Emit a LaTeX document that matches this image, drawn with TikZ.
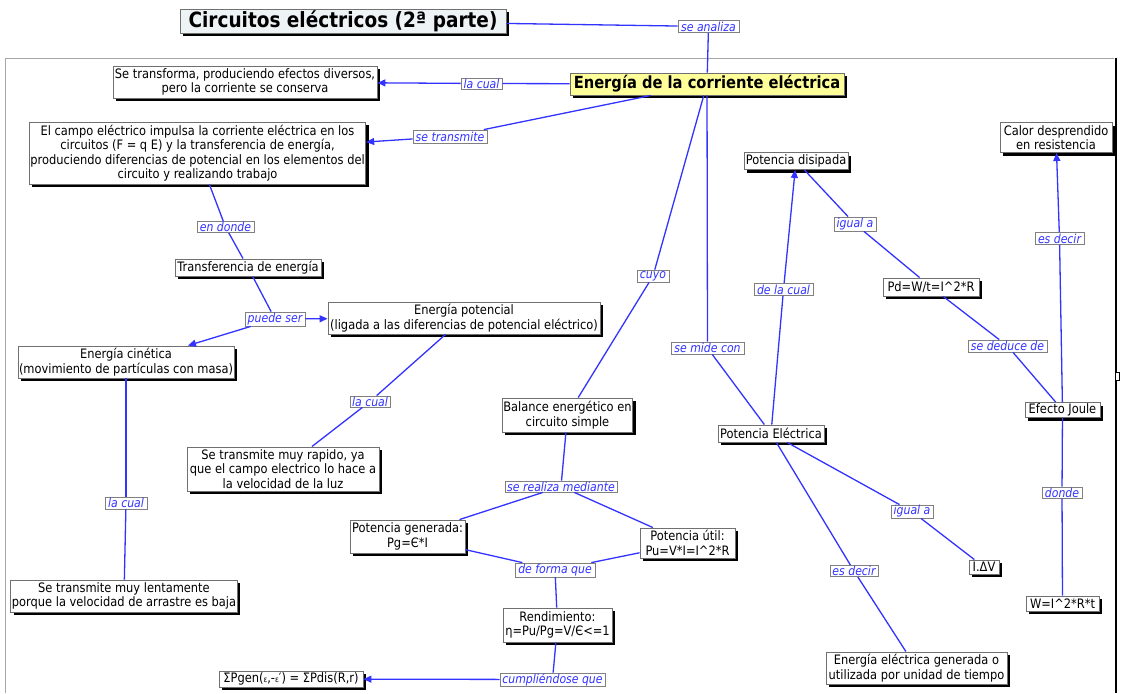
\documentclass[tikz,border=0pt]{standalone}
\usepackage{fontspec}
\setmainfont{DejaVu Sans}[FakeStretch=0.88]
\usetikzlibrary{arrows.meta,shadows,calc}
\definecolor{lineblue}{HTML}{3333FF}
\definecolor{linkblue}{HTML}{3333FF}
\definecolor{titlefill}{HTML}{EEF3F6}
\definecolor{mainfill}{HTML}{FFFF99}
\definecolor{bordergray}{HTML}{707070}
\tikzset{
  sz/.style 2 args={minimum width=#1pt, minimum height=#2pt},
  concept/.style={draw=bordergray, line width=0.9pt, fill=white, align=center, inner sep=1pt, text=black,
    font=\fontsize{13}{14.5}\selectfont,
    drop shadow={shadow xshift=3pt, shadow yshift=-3pt, opacity=1, fill=black}},
  link/.style={draw=gray, line width=0.8pt, fill=white, inner sep=0pt, text=linkblue,
    font=\fontsize{12.4}{12.4}\selectfont\itshape},
  conn/.style={draw=lineblue, line width=1.3pt},
  arr/.style={conn, -{Triangle[length=8pt,width=7pt]}},
}
\begin{document}
\begin{tikzpicture}[x=1pt,y=-1pt]
\useasboundingbox (0,0) rectangle (1121,693);
% frame
\draw[gray!70, line width=1pt] (5,693) -- (5,59) -- (1114,59);
\draw[black, line width=2.5pt] (1116,58) -- (1116,693);
\draw[black, fill=white, line width=0.5pt] (1115,372) rectangle (1119,380);

% nodes
\node[concept, sz={326}{24}, fill=titlefill, font=\fontsize{21}{24}\selectfont\bfseries] (title) at (343,21) {Circuitos eléctricos (2ª parte)};
\node[link, sz={61}{12}] (sean) at (708.5,26.5) {se analiza};
\node[concept, sz={274}{22}, fill=mainfill, font=\fontsize{16.7}{18}\selectfont\bfseries] (main) at (707,84) {Energía de la corriente eléctrica};
\node[link, sz={41}{11}] (lc1) at (481.5,83.5) {la cual};
\node[concept, sz={264}{32}] (trans) at (245,82) {Se transforma, produciendo efectos diversos,\\pero la corriente se conserva};
\node[link, sz={74}{13}] (stm) at (450,136.5) {se transmite};
\node[concept, sz={331}{62}] (campo) at (197.5,153) {El campo eléctrico impulsa la corriente eléctrica en los\\circuitos (F = q E) y la transferencia de energía,\\produciendo diferencias de potencial en los elementos del\\circuito y realizando trabajo};
\node[link, sz={57}{11}] (endonde) at (225.5,227) {en donde};
\node[concept, sz={146}{17}] (transf) at (248,267.5) {Transferencia de energía};
\node[link, sz={60}{14}] (puede) at (275,319) {puede ser};
\node[concept, sz={272}{32}] (epot) at (464,318) {Energía potencial\\(ligada a las diferencias de potencial eléctrico)};
\node[concept, sz={216}{32}] (ecin) at (126,362) {Energía cinética\\(movimiento de partículas con masa)};
\node[link, sz={40}{11}] (lc2) at (370,401.5) {la cual};
\node[concept, sz={192}{44}] (rapido) at (283,469) {Se transmite muy rapido, ya\\que el campo electrico lo hace a\\la velocidad de la luz};
\node[link, sz={42}{12}] (lc3) at (126,503) {la cual};
\node[concept, sz={226}{32}] (lento) at (124,596) {Se transmite muy lentamente\\porque la velocidad de arrastre es baja};
\node[link, sz={32}{12}] (cuyo) at (653,276) {cuyo};
\node[concept, sz={129}{34}] (balance) at (567.5,415) {Balance energético en\\circuito simple};
\node[link, sz={112}{11}] (realiza) at (561,486.5) {se realiza mediante};
\node[concept, sz={115}{33}] (pgen) at (407.5,536.5) {Potencia generada:\\Pg=Є*I};
\node[concept, sz={95}{30}] (putil) at (687.5,543) {Potencia útil:\\Pu=V*I=I\^{}2*R};
\node[link, sz={80}{14}] (deforma) at (555,570) {de forma que};
\node[concept, sz={109}{34}] (rend) at (557.5,625) {Rendimiento:\\η=Pu/Pg=V/Є<=1};
\node[link, sz={105}{13}] (cumpl) at (552.5,679.5) {cumpliéndose que};
\node[concept, sz={144}{16}] (sigma) at (291,679) {ΣPgen({\fontsize{8}{8}\selectfont ε},-{\fontsize{8}{8}\selectfont ε}′) = ΣPdis(R,r)};
\node[link, sz={73}{12}] (midecon) at (707.5,348) {se mide con};
\node[concept, sz={106}{17}] (pelec) at (771,433.5) {Potencia Eléctrica};
\node[link, sz={59}{12}] (delacual) at (783.5,289.5) {de la cual};
\node[concept, sz={104}{17}] (pdis) at (796,161) {Potencia disipada};
\node[link, sz={42}{14}] (igual1) at (855,224) {igual a};
\node[concept, sz={96}{18}] (pd) at (931,287) {Pd=W/t=I\^{}2*R};
\node[link, sz={79}{12}] (deduce) at (1007.5,346) {se deduce de};
\node[concept, sz={75}{15}] (joule) at (1062.5,410) {Efecto Joule};
\node[link, sz={49}{12}] (esdecir1) at (1059.5,238.5) {es decir};
\node[concept, sz={112}{30}] (calor) at (1056,137.5) {Calor desprendido\\en resistencia};
\node[link, sz={40}{11}] (donde) at (1062,492.5) {donde};
\node[concept, sz={73}{15}] (wnode) at (1062.5,603.5) {W=I\^{}2*R*t};
\node[link, sz={42}{13}] (igual2) at (912,511.5) {igual a};
\node[concept, sz={30}{14}] (idv) at (984,567) {I.ΔV};
\node[link, sz={48}{11}] (esdecir2) at (854,571) {es decir};
\node[concept, sz={181}{32}] (eelec) at (916.5,668) {Energía eléctrica generada o\\utilizada por unidad de tiempo};

% connectors
\draw[conn] (title) -- (sean);
\draw[conn] (sean) -- (main);
\draw[conn] (main) -- (lc1);
\draw[arr] (lc1) -- (trans);
\draw[conn] (main) -- (stm);
\draw[arr] (stm) -- (campo);
\draw[conn] (campo) -- (endonde);
\draw[conn] (endonde) -- (transf);
\draw[conn] (transf) -- (puede);
\draw[arr] (puede) -- (epot);
\draw[arr] (puede) -- ($(ecin.north)+(62,0)$);
\draw[conn] (epot) -- (lc2);
\draw[conn] (lc2) -- (rapido);
\draw[conn] (ecin) -- (lc3);
\draw[conn] (lc3) -- (lento);
\draw[conn] (main) -- (cuyo);
\draw[conn] (cuyo) -- (balance);
\draw[conn] (balance) -- (realiza);
\draw[conn] (realiza) -- (pgen);
\draw[conn] (realiza) -- (putil);
\draw[conn] (pgen) -- (deforma);
\draw[conn] (putil) -- (deforma);
\draw[conn] (deforma) -- (rend);
\draw[conn] (rend) -- (cumpl);
\draw[arr] (cumpl) -- (sigma);
\draw[conn] (main) -- (midecon);
\draw[conn] (midecon) -- (pelec);
\draw[conn] (pelec) -- (delacual);
\draw[arr] (delacual) -- (pdis);
\draw[conn] (pdis) -- (igual1);
\draw[conn] (igual1) -- (pd);
\draw[conn] (pd) -- (deduce);
\draw[conn] (deduce) -- (joule);
\draw[conn] (joule) -- (esdecir1);
\draw[arr] (esdecir1) -- (calor);
\draw[conn] (joule) -- (donde);
\draw[conn] (donde) -- (wnode);
\draw[conn] (pelec) -- (igual2);
\draw[conn] (igual2) -- (idv);
\draw[conn] (pelec) -- (esdecir2);
\draw[conn] (esdecir2) -- (eelec);
\end{tikzpicture}
\end{document}
